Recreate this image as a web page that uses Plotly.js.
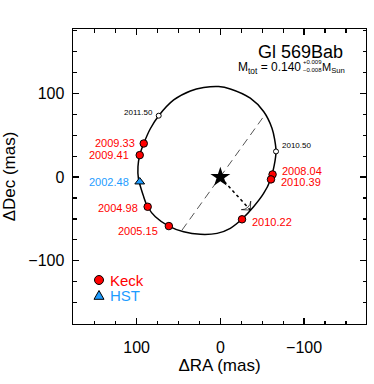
<!DOCTYPE html>
<html>
<head>
<meta charset="utf-8">
<script src="https://cdn.plot.ly/plotly-3.0.1.min.js"></script>
<style>html,body{margin:0;padding:0;background:#fff;}#chart{width:374px;height:384px;}</style>
</head>
<body>
<div id="chart"></div>
<script>
// ---- data (mas) ----
const keckEpochs = ['2009.33', '2009.41', '2004.98', '2005.15', '2008.04', '2010.39', '2010.22'];
const keckRA     = [91.5, 96.3, 86.8, 61.5, -62.4, -60.5, -25.9];
const keckDec    = [40.2, 26.3, -35.4, -58.5, 3.2, -2.7, -50.4];

const hstEpochs = ['2002.48'];
const hstRA     = [96.3];
const hstDec    = [-5.6];

const predEpochs = ['2011.50', '2010.50'];
const predRA     = [73.6, -66.5];
const predDec    = [73.4, 30.7];

const orbitRA  = [-66.5, -65.0, -61.7, -51.7, -35.8, -11.9, 2.0, 19.9, 35.8, 55.7, 73.6, 83.5, 91.5, 96.3, 98.4, 97.9, 92.2, 86.8, 77.6, 61.7, 43.8, 23.9, 3.9, -11.9, -25.9, -39.7, -51.7, -59.7, -64.4, -66.5];
const orbitDec = [30.7, 44.2, 58.5, 78.4, 94.3, 105.4, 108.2, 107.0, 103.0, 92.2, 73.4, 58.1, 40.2, 26.3, 12.3, -1.2, -21.5, -35.4, -47.4, -58.5, -65.3, -68.4, -67.2, -61.2, -50.1, -35.4, -19.5, -3.6, 14.3, 30.7];

const nodeRA  = [45.7, -51.7];
const nodeDec = [-63.2, 72.4];

const periRA  = [0, -35.8];
const periDec = [0, -39.4];

const primaryRA = [0];
const primaryDec = [0];

// ---- styles ----
const FONT = 'Liberation Sans, Arial, Helvetica, sans-serif';
const RED = '#ff0000';
const BLUE = '#1e9cff';

// label offsets in pixels: [xanchor, xshift, yshift]
const keckLabelPos = [
  ['right', -6.5, 0.5], ['right', -8.5, 0.5], ['right', -8, -1.5], ['right', -8.5, -4.5],
  ['left', 7.5, 3.3], ['left', 8, -3], ['left', 7.5, -3]
];
const hstLabelPos = [['right', -8.5, -0.5]];
const predLabelPos = [['right', -4, 3], ['left', 4, 6.3]];

const traces = [
  {x: orbitRA, y: orbitDec, mode: 'lines', line: {color: '#000', width: 1.5, shape: 'spline', smoothing: 1}, hoverinfo: 'skip', showlegend: false},
  {x: nodeRA, y: nodeDec, mode: 'lines', line: {color: '#555', width: 1, dash: '8px,5px'}, hoverinfo: 'skip', showlegend: false},
  {x: periRA, y: periDec, mode: 'lines+markers', line: {color: '#000', width: 1.5, dash: 'dot'},
   marker: {symbol: ['circle', 'arrow-wide-open'], size: [0, 9], angleref: 'previous', color: '#000', line: {width: 1, color: '#000'}},
   hoverinfo: 'skip', showlegend: false},
  {x: predRA, y: predDec, mode: 'markers', marker: {symbol: 'circle', size: 5, color: '#fff', line: {color: '#000', width: 1}}, showlegend: false},
  {x: keckRA, y: keckDec, mode: 'markers', name: 'Keck', marker: {symbol: 'circle', size: 7.5, color: RED, line: {color: '#000', width: 1}}, showlegend: false},
  {x: hstRA, y: hstDec, mode: 'markers', name: 'HST', marker: {symbol: 'triangle-up', size: 8.5, color: BLUE, line: {color: '#000', width: 1}}, showlegend: false},
  {x: primaryRA, y: primaryDec, mode: 'markers', marker: {symbol: 'star', size: 15, color: '#000'}, showlegend: false}
];

const annotations = [];
function addLabels(eps, xs, ys, pos, color, size) {
  eps.forEach((t, i) => {
    annotations.push({x: xs[i], y: ys[i], xref: 'x', yref: 'y', text: t, showarrow: false,
      xanchor: pos[i][0], yanchor: 'middle', xshift: pos[i][1], yshift: pos[i][2],
      font: {family: FONT, size: size, color: color}});
  });
}
addLabels(keckEpochs, keckRA, keckDec, keckLabelPos, RED, 11);
addLabels(hstEpochs, hstRA, hstDec, hstLabelPos, BLUE, 11);
addLabels(predEpochs, predRA, predDec, predLabelPos, '#000', 8);

// figure title text block (paper coords)
const W = 293, H = 295, L = 73, T = 29;
const px = v => (v - L) / W;
const py = v => 1 - (v - T) / H;
annotations.push(
  {xref: 'paper', yref: 'paper', x: px(345), y: py(52), xanchor: 'right', yanchor: 'middle', showarrow: false,
   text: 'Gl 569Bab', font: {family: FONT, size: 18, color: '#000'}},
  {xref: 'paper', yref: 'paper', x: px(303), y: py(67.5), xanchor: 'right', yanchor: 'middle', showarrow: false,
   text: 'M<sub>tot</sub> = 0.140', font: {family: FONT, size: 12, color: '#000'}},
  {xref: 'paper', yref: 'paper', x: px(301), y: py(61.5), xanchor: 'left', yanchor: 'middle', showarrow: false,
   text: '+0.009', font: {family: FONT, size: 6, color: '#000'}},
  {xref: 'paper', yref: 'paper', x: px(301), y: py(70), xanchor: 'left', yanchor: 'middle', showarrow: false,
   text: '\u22120.008', font: {family: FONT, size: 6, color: '#000'}},
  {xref: 'paper', yref: 'paper', x: px(347), y: py(67.5), xanchor: 'right', yanchor: 'middle', showarrow: false,
   text: 'M<sub>Sun</sub>', font: {family: FONT, size: 11, color: '#000'}},
  // legend texts
  {xref: 'paper', yref: 'paper', x: px(108), y: py(280), xanchor: 'left', yanchor: 'middle', showarrow: false,
   text: 'Keck', font: {family: FONT, size: 15, color: RED}},
  {xref: 'paper', yref: 'paper', x: px(108), y: py(295.5), xanchor: 'left', yanchor: 'middle', showarrow: false,
   text: 'HST', font: {family: FONT, size: 15, color: BLUE}}
);

// legend symbols
const shapes = [
  {type: 'circle', xref: 'paper', yref: 'paper', xsizemode: 'pixel', ysizemode: 'pixel',
   xanchor: px(99), yanchor: py(280), x0: -4.5, x1: 4.5, y0: -4.5, y1: 4.5,
   fillcolor: RED, line: {color: '#000', width: 1}},
  {type: 'path', xref: 'paper', yref: 'paper', xsizemode: 'pixel', ysizemode: 'pixel',
   xanchor: px(99), yanchor: py(295.5), path: 'M-5,-3.8 L5,-3.8 L0,5 Z',
   fillcolor: BLUE, line: {color: '#000', width: 1}}
];

const axisCommon = {
  showgrid: false, zeroline: false, showline: true, linecolor: '#000', linewidth: 1.4,
  mirror: 'allticks', ticks: 'inside', ticklen: 6, tickwidth: 1.3, tickcolor: '#000',
  tickvals: [-100, 0, 100], ticktext: ['\u2212100', '0', '100'],
  tickfont: {family: FONT, size: 16, color: '#000'},
  minor: {dtick: 25, tick0: 0, ticks: 'inside', ticklen: 3.5, tickwidth: 1.2, tickcolor: '#000', showgrid: false},
  autorange: false
};

const layout = {
  width: 374, height: 384,
  margin: {l: L, r: 374 - L - W, t: T, b: 384 - T - H},
  paper_bgcolor: '#fff', plot_bgcolor: '#fff',
  font: {family: FONT, color: '#000'},
  showlegend: false,
  xaxis: Object.assign({}, axisCommon, {range: [176, -174], ticklabelstandoff: 8,
    title: {text: '\u0394RA (mas)', font: {family: FONT, size: 17, color: '#000'}, standoff: 0}}),
  yaxis: Object.assign({}, axisCommon, {range: [-175.5, 177], ticklabelstandoff: 4,
    title: {text: '\u0394Dec (mas)', font: {family: FONT, size: 17, color: '#000'}, standoff: 8}}),
  annotations: annotations,
  shapes: shapes
};

Plotly.newPlot('chart', traces, layout, {displayModeBar: false, staticPlot: true});
</script>
</body>
</html>
